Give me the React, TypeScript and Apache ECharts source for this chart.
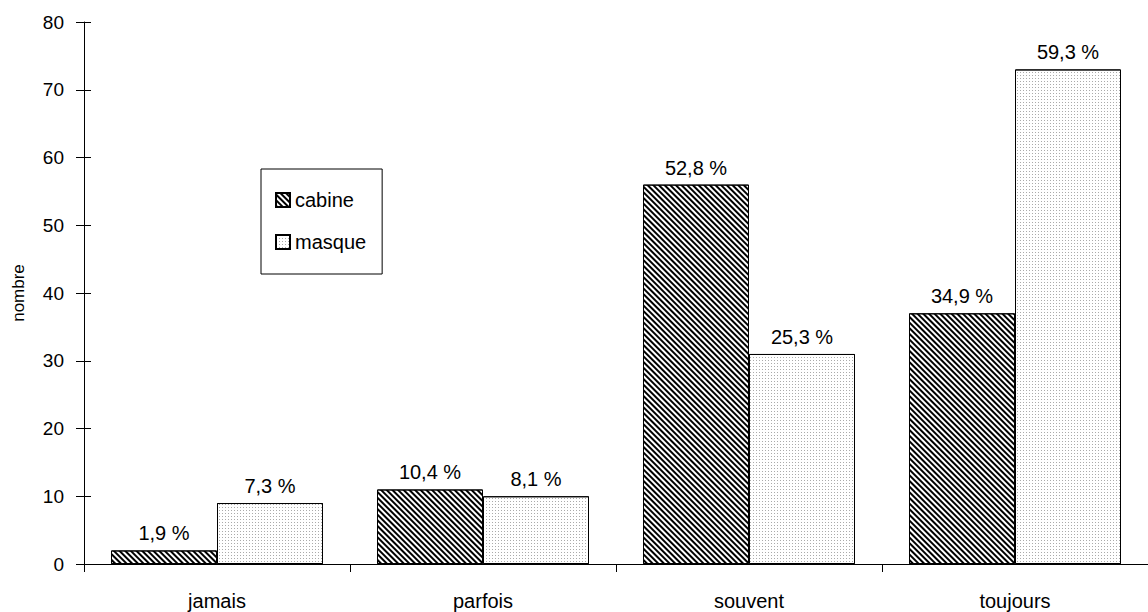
import React, { useEffect, useRef } from "react";
import * as echarts from "echarts";

const categories = ["jamais", "parfois", "souvent", "toujours"];
const cabineValues = [2, 11, 56, 37];
const masqueValues = [9, 10, 31, 73];
const cabinePct = ["1,9 %", "10,4 %", "52,8 %", "34,9 %"];
const masquePct = ["7,3 %", "8,1 %", "25,3 %", "59,3 %"];
const yTicks = { min: 0, max: 80, interval: 10 };

const FONT = "Liberation Sans, Arial, sans-serif";

export default function App() {
  const ref = useRef<HTMLDivElement>(null);
  useEffect(() => {
    if (!ref.current) return;
    const chart = echarts.init(ref.current, undefined, { renderer: "svg" });
    const hatch = {
      symbol: "rect",
      symbolSize: 1,
      dashArrayX: [1, 0],
      dashArrayY: [2, 2],
      rotation: Math.PI / 4,
      color: "#000",
      backgroundColor: "#fff",
    };
    const dots = {
      symbol: "rect",
      symbolSize: 1,
      dashArrayX: [1, 2],
      dashArrayY: [1, 2],
      rotation: 0,
      color: "#aaa",
      backgroundColor: "#fff",
    };
    const labelStyle = {
      show: true,
      position: "top",
      distance: 7,
      color: "#000",
      fontSize: 20,
      fontFamily: FONT,
    };
    chart.setOption({
      animation: false,
      backgroundColor: "#fff",
      textStyle: { fontFamily: FONT },
      grid: { left: 84, top: 22, width: 1067, height: 542 },
      legend: {
        orient: "vertical",
        left: 261,
        top: 169,
        data: ["cabine", "masque"],
        icon: "rect",
        itemWidth: 14,
        itemHeight: 14,
        itemGap: 22,
        padding: [21, 16, 22, 14],
        borderColor: "#000",
        borderWidth: 1,
        textStyle: { fontSize: 20, color: "#000", fontFamily: FONT },
        selectedMode: false,
      },
      xAxis: {
        type: "category",
        data: categories,
        axisLine: { lineStyle: { color: "#000", width: 1 } },
        axisTick: { show: true, length: 8, lineStyle: { color: "#000" } },
        axisLabel: { color: "#000", fontSize: 20, margin: 27, fontFamily: FONT },
      },
      yAxis: [
        {
          type: "value",
          min: yTicks.min,
          max: yTicks.max,
          interval: yTicks.interval,
          name: "nombre",
          nameLocation: "middle",
          nameGap: 57,
          nameRotate: 90,
          nameTextStyle: { fontSize: 17, color: "#000", fontFamily: FONT },
          axisLine: { show: true, lineStyle: { color: "#000", width: 1 } },
          axisTick: { show: true, length: 8, lineStyle: { color: "#000" } },
          axisLabel: { color: "#000", fontSize: 19, margin: 20, fontFamily: FONT },
          splitLine: { show: false },
        },
        {
          type: "value",
          position: "left",
          min: yTicks.min,
          max: yTicks.max,
          interval: yTicks.interval,
          axisLine: { show: false },
          axisTick: { show: true, inside: true, length: 7, lineStyle: { color: "#000" } },
          axisLabel: { show: false },
          splitLine: { show: false },
        },
      ],
      series: [
        {
          name: "cabine",
          type: "bar",
          data: cabineValues,
          barWidth: 106,
          barGap: "0%",
          itemStyle: { color: "#fff", borderColor: "#000", borderWidth: 1, decal: hatch },
          label: { ...labelStyle, formatter: (p: any) => cabinePct[p.dataIndex] },
        },
        {
          name: "masque",
          type: "bar",
          data: masqueValues,
          barWidth: 106,
          barGap: "0%",
          itemStyle: { color: "#fff", borderColor: "#000", borderWidth: 1, decal: dots },
          label: { ...labelStyle, formatter: (p: any) => masquePct[p.dataIndex] },
        },
      ],
    });
    return () => chart.dispose();
  }, []);
  return <div ref={ref} style={{ width: 1148, height: 612, position: "absolute", left: 0, top: 0 }} />;
}
